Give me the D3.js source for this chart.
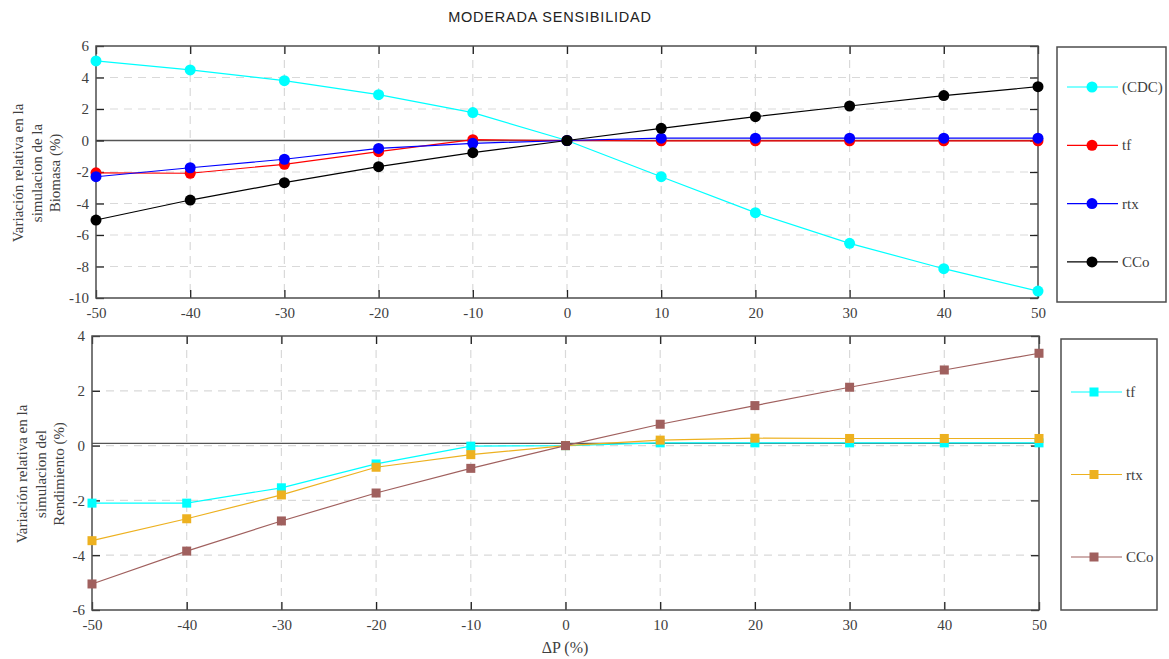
<!DOCTYPE html>
<html>
<head>
<meta charset="utf-8">
<script src="https://cdn.jsdelivr.net/npm/d3@7"></script>
<style>
  body { margin: 0; background: #fff; }
  svg { display: block; }
</style>
</head>
<body>
<svg id="chart" width="1169" height="659"></svg>
<script>
// Variation of precipitation (ΔP, %)
const deltaP = [-50, -40, -30, -20, -10, 0, 10, 20, 30, 40, 50];

// Biomass response (%)
const bioCDC = [5.05, 4.48, 3.8, 2.91, 1.77, 0, -2.3, -4.58, -6.53, -8.14, -9.56];
const bioTf  = [-2.05, -2.08, -1.51, -0.71, 0.05, 0, -0.02, -0.02, -0.02, -0.02, -0.02];
const bioRtx = [-2.3, -1.73, -1.19, -0.5, -0.18, 0, 0.15, 0.15, 0.15, 0.15, 0.15];
const bioCCo = [-5.05, -3.78, -2.68, -1.66, -0.77, 0, 0.77, 1.51, 2.19, 2.85, 3.42];

// Yield response (%)
const yldTf  = [-2.1, -2.1, -1.54, -0.67, -0.02, 0, 0.1, 0.1, 0.1, 0.1, 0.1];
const yldRtx = [-3.47, -2.67, -1.8, -0.79, -0.33, 0, 0.2, 0.27, 0.26, 0.26, 0.26];
const yldCCo = [-5.05, -3.85, -2.75, -1.73, -0.83, 0, 0.78, 1.46, 2.13, 2.76, 3.37];

const xTicks = [-50, -40, -30, -20, -10, 0, 10, 20, 30, 40, 50];
const bioYTicks = [6, 4, 2, 0, -2, -4, -6, -8, -10];
const yldYTicks = [4, 2, 0, -2, -4, -6];

const bioSeries = [
  { name: "(CDC)", values: bioCDC, color: "#00ffff" },
  { name: "tf", values: bioTf, color: "#ff0000" },
  { name: "rtx", values: bioRtx, color: "#0000ff" },
  { name: "CCo", values: bioCCo, color: "#000000" }
];
const yldSeries = [
  { name: "tf", values: yldTf, color: "#00ffff" },
  { name: "rtx", values: yldRtx, color: "#edb120" },
  { name: "CCo", values: yldCCo, color: "#a0605e" }
];

const svg = d3.select("#chart");
const serif = "Liberation Serif";
const axisColor = "#4d4d4d";
const textColor = "#404040";
const plain = d => String(d);   // hyphen-minus labels

svg.append("text")
  .attr("x", 550).attr("y", 22)
  .attr("text-anchor", "middle")
  .style("font-family", "Liberation Sans")
  .style("font-size", "14.5px")
  .style("letter-spacing", "0.8px")
  .attr("fill", "#222")
  .text("MODERADA SENSIBILIDAD");

function panel(cfg) {
  const g = svg.append("g");
  const x = d3.scaleLinear().domain([-50, 50]).range([cfg.left, cfg.right]);
  const y = d3.scaleLinear().domain(cfg.yDomain).range([cfg.bottom, cfg.top]);

  // dashed grid
  g.selectAll(".gx").data(xTicks.slice(1, -1)).join("line")
    .attr("x1", d => x(d)).attr("x2", d => x(d))
    .attr("y1", cfg.top).attr("y2", cfg.bottom)
    .attr("stroke", "#d9d9d9").attr("stroke-width", 1.2)
    .attr("stroke-dasharray", "8,6");
  g.selectAll(".gy").data(cfg.yTicks.filter(t => t !== cfg.yDomain[0] && t !== cfg.yDomain[1])).join("line")
    .attr("x1", cfg.left).attr("x2", cfg.right)
    .attr("y1", d => y(d)).attr("y2", d => y(d))
    .attr("stroke", "#d9d9d9").attr("stroke-width", 1.2)
    .attr("stroke-dasharray", "8,6");

  // reference line near zero
  g.append("line")
    .attr("x1", cfg.left).attr("x2", cfg.right)
    .attr("y1", y(cfg.refLine)).attr("y2", y(cfg.refLine))
    .attr("stroke", "#555").attr("stroke-width", 1.3);

  // axes with inward ticks on all four sides
  const tickLen = 8;
  const axB = g.append("g").attr("transform", `translate(0,${cfg.bottom})`)
    .call(d3.axisBottom(x).tickValues(xTicks).tickFormat(plain).tickSize(-tickLen).tickPadding(9).tickSizeOuter(0));
  const axT = g.append("g").attr("transform", `translate(0,${cfg.top})`)
    .call(d3.axisTop(x).tickValues(xTicks).tickSize(-tickLen).tickFormat("").tickSizeOuter(0));
  const axL = g.append("g").attr("transform", `translate(${cfg.left},0)`)
    .call(d3.axisLeft(y).tickValues(cfg.yTicks).tickFormat(plain).tickSize(-tickLen).tickPadding(7).tickSizeOuter(0));
  const axR = g.append("g").attr("transform", `translate(${cfg.right},0)`)
    .call(d3.axisRight(y).tickValues(cfg.yTicks).tickSize(-tickLen).tickFormat("").tickSizeOuter(0));
  [axB, axT, axL, axR].forEach(a => {
    a.attr("font-family", null).attr("font-size", null);
    a.select(".domain").remove();
    a.selectAll(".tick line").attr("stroke", "#222").attr("stroke-width", 1.3);
    a.selectAll(".tick text")
      .style("font-family", serif).style("font-size", "15px").attr("fill", textColor);
  });

  // frame
  g.append("rect")
    .attr("x", cfg.left).attr("y", cfg.top)
    .attr("width", cfg.right - cfg.left).attr("height", cfg.bottom - cfg.top)
    .attr("fill", "none").attr("stroke", axisColor).attr("stroke-width", 1.5);

  // series
  const line = d3.line().x((d, i) => x(deltaP[i])).y(d => y(d));
  cfg.series.forEach(s => {
    g.append("path").datum(s.values)
      .attr("d", line).attr("fill", "none")
      .attr("stroke", s.color).attr("stroke-width", 1.2);
    if (cfg.marker === "circle") {
      g.selectAll(null).data(s.values).join("circle")
        .attr("cx", (d, i) => x(deltaP[i])).attr("cy", d => y(d))
        .attr("r", 5.5).attr("fill", s.color);
    } else {
      g.selectAll(null).data(s.values).join("rect")
        .attr("x", (d, i) => x(deltaP[i]) - 4.5).attr("y", d => y(d) - 4.5)
        .attr("width", 9).attr("height", 9).attr("fill", s.color);
    }
  });

  // y label
  const ly = cfg.labelY;
  cfg.yLabel.forEach((t, i) => {
    g.append("text")
      .attr("transform", `translate(${cfg.yLabelX + i * 18.5},${ly}) rotate(-90)`)
      .attr("text-anchor", "middle")
      .style("font-family", serif).style("font-size", "15px").attr("fill", textColor)
      .text(t);
  });

  // legend
  const L = cfg.legend;
  g.append("rect")
    .attr("x", L.x).attr("y", L.y).attr("width", L.w).attr("height", L.h)
    .attr("fill", "#fff").attr("stroke", axisColor).attr("stroke-width", 1.5);
  cfg.series.forEach((s, i) => {
    const cy = L.firstY + i * L.step;
    g.append("line")
      .attr("x1", L.x + 10).attr("x2", L.x + 61)
      .attr("y1", cy).attr("y2", cy)
      .attr("stroke", s.color).attr("stroke-width", 1.2);
    if (cfg.marker === "circle") {
      g.append("circle").attr("cx", L.x + 35).attr("cy", cy).attr("r", 5.5).attr("fill", s.color);
    } else {
      g.append("rect").attr("x", L.x + 33 - 4.5).attr("y", cy - 4.5)
        .attr("width", 9).attr("height", 9).attr("fill", s.color);
    }
    g.append("text")
      .attr("x", L.x + 65).attr("y", cy + 5)
      .style("font-family", serif).style("font-size", "15px").attr("fill", textColor)
      .text(s.name);
  });
  return { x, y };
}

panel({
  left: 96, right: 1038, top: 46, bottom: 298,
  yDomain: [-10, 6], yTicks: bioYTicks, refLine: 0,
  series: bioSeries, marker: "circle",
  yLabel: ["Variación relativa en la", "simulacion de la", "Biomasa (%)"],
  yLabelX: 23, labelY: 173,
  legend: { x: 1057, y: 47, w: 109, h: 255, firstY: 87, step: 58.3 }
});

panel({
  left: 92, right: 1039, top: 336, bottom: 610,
  yDomain: [-6, 4], yTicks: yldYTicks, refLine: 0.08,
  series: yldSeries, marker: "square",
  yLabel: ["Variación relativa en la", "simulacion del", "Rendimiento (%)"],
  yLabelX: 27, labelY: 474,
  legend: { x: 1061, y: 339, w: 96, h: 271, firstY: 392, step: 82.5 }
});

svg.append("text")
  .attr("x", 565).attr("y", 653)
  .attr("text-anchor", "middle")
  .style("font-family", serif).style("font-size", "16px").attr("fill", textColor)
  .text("ΔP (%)");
</script>
</body>
</html>
